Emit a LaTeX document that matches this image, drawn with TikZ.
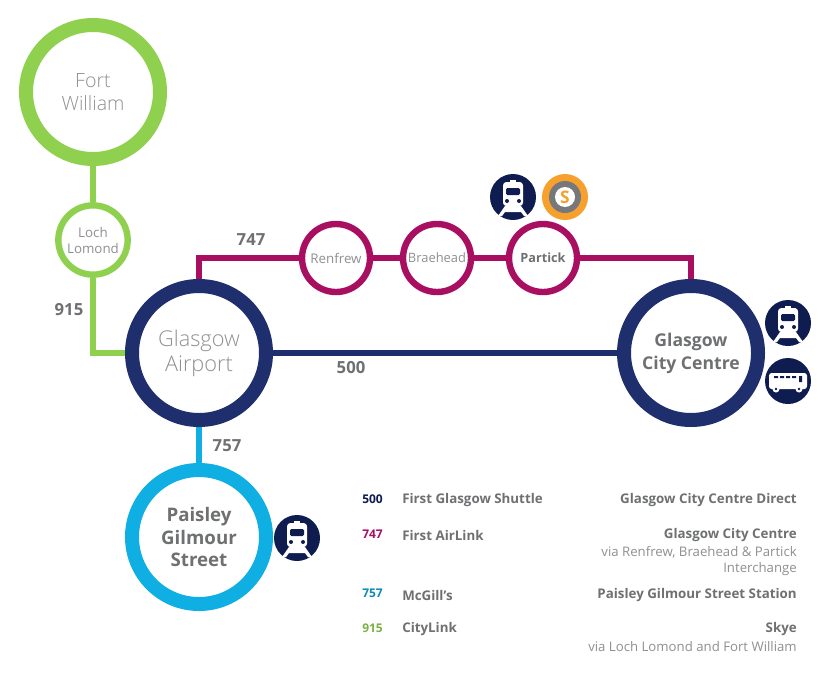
\documentclass[tikz,border=0pt]{standalone}
\usepackage{fontspec}
\setmainfont{Open Sans}
\newfontfamily\lightf{Open Sans Light}
\usetikzlibrary{backgrounds}
\pgfdeclarelayer{bottom}
\pgfsetlayers{bottom,background,main}
\definecolor{navy}{HTML}{1F2F6E}
\definecolor{icon}{HTML}{0F1C50}
\definecolor{plum}{HTML}{A80F60}
\definecolor{sky}{HTML}{0FAEE3}
\definecolor{lime}{HTML}{8FD14F}
\definecolor{txt}{HTML}{6E7072}
\definecolor{ltxt}{HTML}{8E9092}
\definecolor{orng}{HTML}{F6A02D}
\definecolor{gry}{HTML}{77787B}
\tikzset{
 stn/.style={circle,draw,fill=white,inner sep=0pt,align=center,text=ltxt},
 big/.style={stn,minimum size=100.5pt,line width=10.5pt},
 small/.style={stn,minimum size=51pt,line width=4.8pt,font=\fontsize{10}{12}\selectfont},
 conn/.style={line width=5.2pt},
 num/.style={text=txt,font=\fontsize{12.5}{15}\selectfont\bfseries,inner sep=0pt},
 legn/.style={font=\fontsize{9}{10}\selectfont\bfseries,inner sep=0pt,anchor=west},
 legt/.style={text=txt,font=\fontsize{10}{12}\selectfont\bfseries,inner sep=0pt},
 legs/.style={text=ltxt,font=\fontsize{9.9}{12}\selectfont,inner sep=0pt,anchor=east},
 trainicon/.pic={
  \fill[icon] (0,0) circle (23);
  \fill[white] (-3,-17) rectangle (3,-13);
  \fill[white,rounded corners=2.5pt] (-10,-15) rectangle (10,9);
  \fill[icon,rounded corners=1pt] (-7,-9) rectangle (7,-2);
  \fill[icon] (-6,4) circle (2) (6,4) circle (2);
  \fill[white] (-8,9) -- (-15,19) -- (-11,19) -- (-8,15) -- (8,15) -- (11,19) -- (15,19) -- (8,9) -- cycle;
 },
 busicon/.pic={
  \fill[icon] (0,0) circle (23);
  \fill[white,rounded corners=2pt] (-19,-8) rectangle (19,8);
  \fill[white] (-12,8) circle (3.5) (11,8) circle (3.5);
  \fill[icon] (-12,8) circle (1.4) (11,8) circle (1.4);
  \fill[icon] (-14,-5) rectangle (-10,-3) (-8,-5) rectangle (-4,-3) (-2,-5) rectangle (2,-3) (4,-5) rectangle (8,-3) (11,-5) rectangle (14,1);
 }
}
\begin{document}
\begin{tikzpicture}[x=0.75pt,y=-0.75pt]
\useasboundingbox (0,0) rectangle (830,675);
\begin{pgfonlayer}{bottom}
\fill[white] (0,0) rectangle (830,675);
\end{pgfonlayer}
% stations
\node[big,draw=lime,font=\lightf\fontsize{14.7}{17.5}\selectfont] (fw) at (93,92) {Fort\\William};
\node[small,draw=lime,minimum size=52pt] (ll) at (93,240) {Loch\\Lomond};
\node[big,draw=navy] (ga) at (199,353) {};
\node[align=center,inner sep=0pt,text=ltxt,font=\lightf\fontsize{16.3}{18.5}\selectfont] (gat) at (199,353.5) {Glasgow\\Airport};
\node[big,draw=navy] (gc) at (691,353) {};
\node[align=center,inner sep=0pt,text=txt,font=\bfseries\fontsize{13.2}{17.5}\selectfont] (gct) at (691,353.5) {Glasgow\\City Centre};
\node[big,draw=sky,text=txt,font=\bfseries\fontsize{14}{17}\selectfont] (pg) at (199,537) {Paisley\\Gilmour\\Street};
\node[small,draw=plum] (re) at (336,258) {Renfrew};
\node[small,draw=plum,font=\fontsize{9.7}{12}\selectfont] (br) at (437,258) {Braehead};
\node[small,draw=plum,text=txt,font=\bfseries\fontsize{9.5}{11}\selectfont] (pa) at (543,258) {Partick};
% corners
\coordinate (c915) at (93,353);
\coordinate (a747) at (199,258);
\coordinate (b747) at (691,258);
% connectors
\begin{scope}[on background layer]
\draw[conn,lime] (fw) -- (ll);
\draw[conn,lime] (ll) -- (c915) -- (ga);
\draw[conn,plum] (ga) -- (a747) -- (re);
\draw[conn,plum] (re) -- (br);
\draw[conn,plum] (br) -- (pa);
\draw[conn,plum] (pa) -- (b747) -- (gc);
\draw[conn,navy] (ga) -- (gc);
\draw[conn,sky] (ga) -- (pg);
\end{scope}
% route labels
\node[num] (n747) at (251,240) {747};
\node[num] (n915) at (69,310) {915};
\node[num] (n500) at (351,368) {500};
\node[num] (n757) at (227,446) {757};
% icons
\pic at (513,197) {trainicon};
\fill[orng] (565,197) circle (23);
\fill[gry] (565,197) circle (16);
\node[circle,fill=white,inner sep=0pt,minimum size=15pt,text=orng,font=\bfseries\fontsize{13}{14}\selectfont] (sub) at (565,197) {S};
\pic at (788,323) {trainicon};
\pic at (788,381) {busicon};
\pic at (297,538) {trainicon};
% legend
\node[legn,text=icon] (l500) at (362,499) {500};
\node[legn,text=plum] (l747) at (362,534) {747};
\node[legn,text=sky!80!black] (l757) at (362,593) {757};
\node[legn,text=lime!85!black] (l915) at (362,628) {915};
\node[legt,anchor=west] (o500) at (402,500) {First Glasgow Shuttle};
\node[legt,anchor=west] (o747) at (402,535) {First AirLink};
\node[legt,anchor=west] (o757) at (402,595) {McGill’s};
\node[legt,anchor=west] (o915) at (402,629.5) {CityLink};
\node[legt,anchor=east] (d500) at (797,500) {Glasgow City Centre Direct};
\node[legt,anchor=east] (d747) at (797,535) {Glasgow City Centre};
\node[legs] (v747a) at (797,552) {via Renfrew, Braehead \& Partick};
\node[legs] (v747b) at (797,569) {Interchange};
\node[legt,anchor=east] (d757) at (797,595) {Paisley Gilmour Street Station};
\node[legt,anchor=east] (d915) at (797,629.5) {Skye};
\node[legs] (v915) at (797,646.5) {via Loch Lomond and Fort William};
\end{tikzpicture}
\end{document}
